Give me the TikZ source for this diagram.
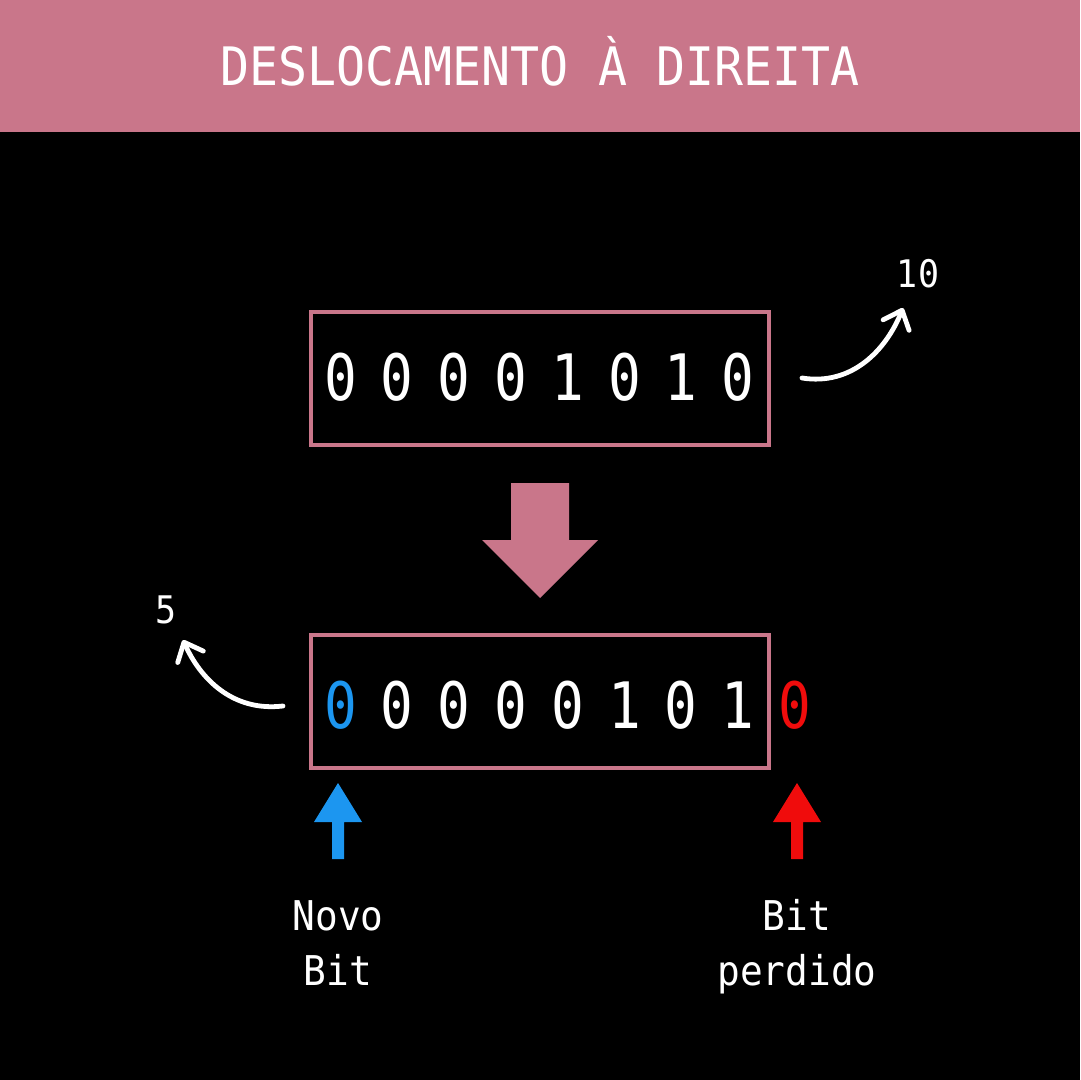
\documentclass[tikz,border=0pt]{standalone}
\usepackage{fontspec}
\setmonofont{DejaVu Sans Mono}
\newfontfamily\titlefont[FakeStretch=0.91]{DejaVu Sans Mono}
\newfontfamily\digitfont[FakeStretch=0.85]{DejaVu Sans Mono}
\newfontfamily\labelfont[FakeStretch=0.92]{DejaVu Sans Mono}
\usetikzlibrary{arrows.meta}
\definecolor{rosa}{RGB}{201,118,138}
\definecolor{azul}{RGB}{28,150,240}
\definecolor{verm}{RGB}{240,12,12}
\tikzset{
  bitbox/.style={draw=rosa, line width=1.6pt},
  dig/.style={text=white, inner sep=0pt, font=\digitfont\fontsize{32}{32}\selectfont},
  lbl/.style={text=white, inner sep=0pt, anchor=base, font=\labelfont\fontsize{20.5}{20.5}\selectfont},
  small/.style={text=white, inner sep=0pt, font=\labelfont\fontsize{19}{19}\selectfont},
  curvy/.style={white, line width=2.4pt, line cap=round, -{Straight Barb[length=8pt, width=14pt, line width=2.4pt, round]}},
}
\begin{document}
\begin{tikzpicture}[x=0.5pt, y=-0.5pt]
\useasboundingbox (0,0) rectangle (1080,1080);
\fill[black] (0,0) rectangle (1080,1080);
% header
\fill[rosa] (0,0) rectangle (1080,132);
\node[text=white, inner sep=0pt, anchor=base, font=\titlefont\fontsize{26.5}{26.5}\selectfont] (title) at (540,86) {DESLOCAMENTO À DIREITA};
% top box
\draw[bitbox] (311,312) rectangle (769,445);
\foreach \d [count=\i from 0] in {0,0,0,0,1,0,1,0} {
  \node[dig] (t\i) at ({340.5+56.8*\i},377) {\d};
}
% big down arrow
\fill[rosa] (511,483) -- (569,483) -- (569,540) -- (598,540) -- (540,598) -- (482,540) -- (511,540) -- cycle;
% bottom box
\draw[bitbox] (311,635) rectangle (769,768);
\node[dig, text=azul] (b0) at (340.5,705) {0};
\foreach \d [count=\i from 1] in {0,0,0,0,1,0,1} {
  \node[dig] (b\i) at ({340.5+56.8*\i},705) {\d};
}
\node[dig, text=verm] (b8) at (795,705) {0};
% curved arrows
\node[small] (ten) at (918,274) {10};
\node[small] (five) at (166,610) {5};
\coordinate (s1) at (802,378);
\coordinate (e1) at (903,308);
\draw[curvy] (s1) .. controls (852,386) and (886,350) .. (e1);
\coordinate (s2) at (283,706);
\coordinate (e2) at (183,640);
\draw[curvy] (s2) .. controls (232,712) and (200,678) .. (e2);
% small up arrows
\fill[azul] (332,859) -- (344,859) -- (344,822) -- (362,822) -- (338,783) -- (314,822) -- (332,822) -- cycle;
\fill[verm] (791,859) -- (803,859) -- (803,822) -- (821,822) -- (797,783) -- (773,822) -- (791,822) -- cycle;
% labels
\node[lbl] (novo) at (338,930) {Novo};
\node[lbl] (novobit) at (338,985) {Bit};
\node[lbl] (bit) at (797,930) {Bit};
\node[lbl] (perd) at (797,985) {perdido};
\end{tikzpicture}
\end{document}
